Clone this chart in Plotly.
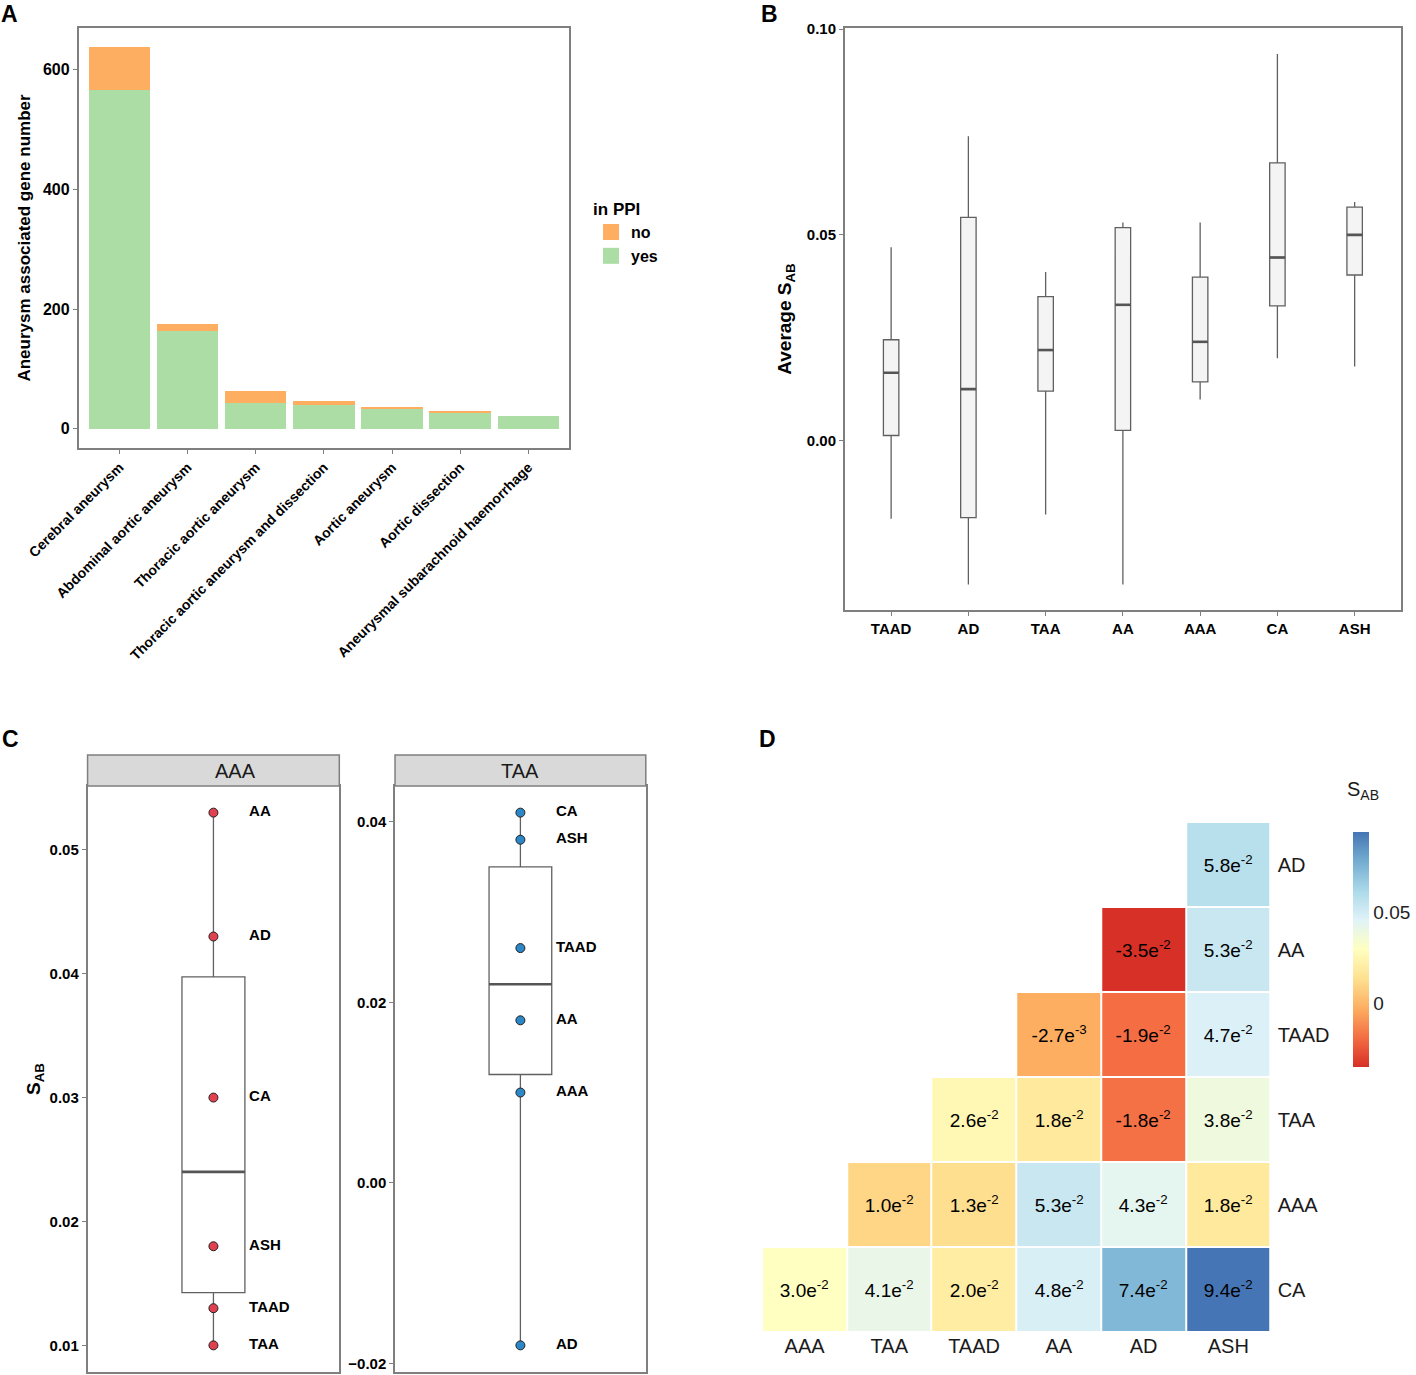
import numpy as np
import plotly.graph_objects as go

W, H = 1416, 1375
# the page renders the paper 8px narrower than the window, so positions are taken on 1408
PAPER_W = 1408

# ---- panel A: genes per aneurysm type
disease_names = ["Cerebral aneurysm", "Abdominal aortic aneurysm", "Thoracic aortic aneurysm",
                 "Thoracic aortic aneurysm and dissection", "Aortic aneurysm", "Aortic dissection",
                 "Aneurysmal subarachnoid haemorrhage"]
ppi_yes = [566, 164, 44, 40, 34, 27, 21]
ppi_no = [72, 12, 19, 6, 2, 2, 0]

# ---- panel D: pairwise S_AB (lower triangle)
hm_cols = ["AAA", "TAA", "TAAD", "AA", "AD", "ASH"]
hm_rows = ["AD", "AA", "TAAD", "TAA", "AAA", "CA"]
s_ab = [
    [None, None, None, None, None, 0.058],
    [None, None, None, None, -0.035, 0.053],
    [None, None, None, -0.0027, -0.019, 0.047],
    [None, None, 0.026, 0.018, -0.018, 0.038],
    [None, 0.010, 0.013, 0.053, 0.043, 0.018],
    [0.030, 0.041, 0.020, 0.048, 0.074, 0.094],
]

# ---- panel B order, panel C facets
box_order = ["TAAD", "AD", "TAA", "AA", "AAA", "CA", "ASH"]
facets = ["AAA", "TAA"]
facet_colors = {"AAA": "#e04050", "TAA": "#2b87c8"}

RDYLBU = ["#d73027", "#f46d43", "#fdae61", "#fee090", "#ffffbf",
          "#e0f3f8", "#abd9e9", "#74add1", "#4575b4"]
GREEN, ORANGE = "#abdda4", "#fdae61"

FONT = "Liberation Sans, Arial, sans-serif"
GRID = "#7f7f7f"
BOXLINE = "#606060"


def px_x(x):
    return min(x / PAPER_W, 1.0)


def px_y(y):
    return 1 - y / H


# partner values for each disease, taken from the matrix
pairs = {}
for i, r in enumerate(hm_rows):
    for j, c in enumerate(hm_cols):
        if s_ab[i][j] is not None:
            pairs[(r, c)] = s_ab[i][j]


def partners(d):
    out = []
    for (a, b), v in pairs.items():
        if a == d:
            out.append((b, v))
        elif b == d:
            out.append((a, v))
    return out


def box_stats(vals):
    v = np.sort(np.array(vals))
    q1, med, q3 = np.percentile(v, [25, 50, 75])
    iqr = q3 - q1
    lo = v[v >= q1 - 1.5 * iqr].min()
    hi = v[v <= q3 + 1.5 * iqr].max()
    return q1, med, q3, lo, hi


def median_segments(xs, meds, half):
    lx, ly = [], []
    for x, m in zip(xs, meds):
        lx += [x - half, x + half, None]
        ly += [m, m, None]
    return lx, ly


def sci_label(v):
    if v is None:
        return ""
    m, e = f"{v:.1e}".split("e")
    return f"{m}e<sup>{int(e)}</sup>"


fig = go.Figure()

# A: stacked bars
fig.add_trace(go.Bar(x=disease_names, y=ppi_yes, name="yes", marker_color=GREEN,
                     marker_line_width=0, showlegend=False, xaxis="x", yaxis="y"))
fig.add_trace(go.Bar(x=disease_names, y=ppi_no, name="no", marker_color=ORANGE,
                     marker_line_width=0, showlegend=False, xaxis="x", yaxis="y"))
for nm, col in [("no", ORANGE), ("yes", GREEN)]:
    fig.add_trace(go.Scatter(x=[None], y=[None], mode="markers", name=nm,
                             marker=dict(symbol="square", size=20, color=col),
                             xaxis="x", yaxis="y"))

# B: boxes of average S_AB
bx = list(range(len(box_order)))
stats = [box_stats([v for _, v in partners(d)]) for d in box_order]
fig.add_trace(go.Box(
    x=bx, q1=[s[0] for s in stats], median=[s[1] for s in stats], q3=[s[2] for s in stats],
    lowerfence=[s[3] for s in stats], upperfence=[s[4] for s in stats],
    width=0.2, whiskerwidth=0, fillcolor="#f4f4f4", line=dict(color=BOXLINE, width=1.3),
    boxpoints=False, showlegend=False, hoverinfo="skip", xaxis="x2", yaxis="y2"))
mx, my = median_segments(bx, [s[1] for s in stats], 0.1)
fig.add_trace(go.Scatter(x=mx, y=my, mode="lines", line=dict(color="#555555", width=2.6),
                         showlegend=False, hoverinfo="skip", xaxis="x2", yaxis="y2"))

# C: two facets
for k, d in enumerate(facets):
    ax = str(3 + k)
    part = partners(d)
    names = [p[0] for p in part]
    vals = [p[1] for p in part]
    q1, med, q3, lo, hi = box_stats(vals)
    fig.add_trace(go.Box(x=[1], q1=[q1], median=[med], q3=[q3], lowerfence=[lo], upperfence=[hi],
                         width=0.3, whiskerwidth=0, fillcolor="white",
                         line=dict(color=BOXLINE, width=1.3), boxpoints=False,
                         showlegend=False, hoverinfo="skip", xaxis="x" + ax, yaxis="y" + ax))
    mx, my = median_segments([1], [med], 0.15)
    fig.add_trace(go.Scatter(x=mx, y=my, mode="lines", line=dict(color="#555555", width=2.6),
                             showlegend=False, hoverinfo="skip", xaxis="x" + ax, yaxis="y" + ax))
    fig.add_trace(go.Scatter(x=[1] * len(vals), y=vals, mode="markers",
                             marker=dict(size=9, color=facet_colors[d], line=dict(color="#222222", width=1)),
                             showlegend=False, xaxis="x" + ax, yaxis="y" + ax))
    fig.add_trace(go.Scatter(x=[1.17] * len(vals), y=vals, mode="text", text=names,
                             textposition="middle right",
                             textfont=dict(family=FONT, size=15, color="black", weight="bold"),
                             showlegend=False, xaxis="x" + ax, yaxis="y" + ax))

# D: heatmap
zmin = min(v for row in s_ab for v in row if v is not None)
zmax = max(v for row in s_ab for v in row if v is not None)
fig.add_trace(go.Heatmap(
    z=s_ab, x=hm_cols, y=hm_rows, zmin=zmin, zmax=zmax,
    colorscale=[[i / (len(RDYLBU) - 1), c] for i, c in enumerate(RDYLBU)],
    text=[[sci_label(v) for v in row] for row in s_ab], texttemplate="%{text}",
    textfont=dict(family=FONT, size=19, color="black"),
    xgap=2, ygap=2, hoverongaps=False, xaxis="x5", yaxis="y5",
    colorbar=dict(x=px_x(1350), xanchor="left", y=px_y(949.5), yanchor="middle",
                  len=255, lenmode="pixels", thickness=16, outlinewidth=0,
                  tickvals=[0, 0.05], ticktext=["0", "0.05"], ticks="",
                  tickfont=dict(family=FONT, size=19, color="#222222"))))

tick_bold = dict(family=FONT, size=15, color="black", weight="bold")
frame = dict(showline=True, mirror=True, linecolor=GRID, linewidth=1.5, showgrid=False,
             zeroline=False, ticks="outside", ticklen=4, tickcolor=GRID, automargin=False)

fig.update_layout(
    width=W, height=H, margin=dict(l=0, r=0, t=0, b=0),
    paper_bgcolor="white", plot_bgcolor="white", barmode="stack", bargap=0.1,
    font=dict(family=FONT, color="black"),
    legend=dict(title=dict(text="<b>in PPI</b>", font=dict(size=17)), traceorder="normal",
                x=px_x(594), y=px_y(193), xanchor="left", yanchor="top",
                font=dict(size=16, weight="bold"), itemwidth=30),
    # A
    xaxis=dict(domain=[px_x(79), px_x(572)], anchor="y", range=[-0.6, 6.6], tickangle=-45,
               tickfont=dict(family=FONT, size=14, color="black", weight="bold"), **frame),
    yaxis=dict(domain=[px_y(448), px_y(28)], anchor="x", range=[-32, 670],
               tickvals=[0, 200, 400, 600], tickfont=dict(family=FONT, size=16, color="black", weight="bold"),
               title=dict(text="<b>Aneurysm associated gene number</b>", font=dict(size=17), standoff=8),
               **frame),
    # B
    xaxis2=dict(domain=[px_x(849), px_x(1408)], anchor="y2", range=[-0.6, 6.6],
                tickvals=bx, ticktext=box_order, tickfont=tick_bold, **frame),
    yaxis2=dict(domain=[px_y(610), px_y(28)], anchor="x2", range=[-0.0412, 0.1003],
                tickvals=[0, 0.05, 0.1], tickformat=".2f", tickfont=tick_bold,
                title=dict(text="<b>Average S<sub>AB</sub></b>", font=dict(size=19), standoff=10), **frame),
    # C left
    xaxis3=dict(domain=[px_x(88), px_x(341)], anchor="y3", range=[0.4, 1.6], showticklabels=False,
                **{**frame, "ticks": ""}),
    yaxis3=dict(domain=[px_y(1372), px_y(786)], anchor="x3", range=[0.00785, 0.05515],
                tickvals=[0.01, 0.02, 0.03, 0.04, 0.05], tickformat=".2f", tickfont=tick_bold,
                title=dict(text="<b>S<sub>AB</sub></b>", font=dict(size=19), standoff=4), **frame),
    # C right
    xaxis4=dict(domain=[px_x(397), px_x(649)], anchor="y4", range=[0.4, 1.6], showticklabels=False,
                **{**frame, "ticks": ""}),
    yaxis4=dict(domain=[px_y(1372), px_y(786)], anchor="x4", range=[-0.02095, 0.04395],
                tickvals=[-0.02, 0, 0.02, 0.04], tickformat=".2f", tickfont=tick_bold, **frame),
    # D
    xaxis5=dict(domain=[px_x(766), px_x(1277)], anchor="y5", showline=False, showgrid=False,
                zeroline=False, ticks="", tickfont=dict(family=FONT, size=20, color="#1a1a1a"),
                automargin=False),
    yaxis5=dict(domain=[px_y(1332), px_y(822)], anchor="x5", side="right", autorange="reversed",
                showline=False, showgrid=False, zeroline=False, ticks="", ticklabelstandoff=6,
                tickfont=dict(family=FONT, size=20, color="#1a1a1a"), automargin=False),
)

# facet strips
for d, (x0, x1) in zip(facets, [(88, 341), (397, 649)]):
    fig.add_shape(type="rect", xref="paper", yref="paper", x0=px_x(x0), x1=px_x(x1),
                  y0=px_y(786), y1=px_y(755), fillcolor="#d9d9d9", line=dict(color=GRID, width=1.5))
    fig.add_annotation(text=d, xref="paper", yref="paper", x=px_x((x0 + x1) / 2), y=px_y(770.5),
                       showarrow=False, font=dict(family=FONT, size=20, color="#1a1a1a"))

# colourbar title
fig.add_annotation(text="S<sub>AB</sub>", xref="paper", yref="paper", x=px_x(1352), y=px_y(790),
                   xanchor="left", yanchor="middle", showarrow=False,
                   font=dict(family=FONT, size=20, color="#1a1a1a"))

# panel letters
for letter, x, y in [("A", 10, 14), ("B", 773, 14), ("C", 11, 739), ("D", 771, 739)]:
    fig.add_annotation(text=f"<b>{letter}</b>", xref="paper", yref="paper", x=px_x(x), y=px_y(y),
                       xanchor="center", yanchor="middle", showarrow=False,
                       font=dict(family=FONT, size=23, color="black"))

fig.write_html("out.html", config={"displayModeBar": False},
               post_script="document.body.style.margin='0';"
                           "document.body.style.overflow='hidden';"
                           "document.documentElement.style.overflow='hidden';")
